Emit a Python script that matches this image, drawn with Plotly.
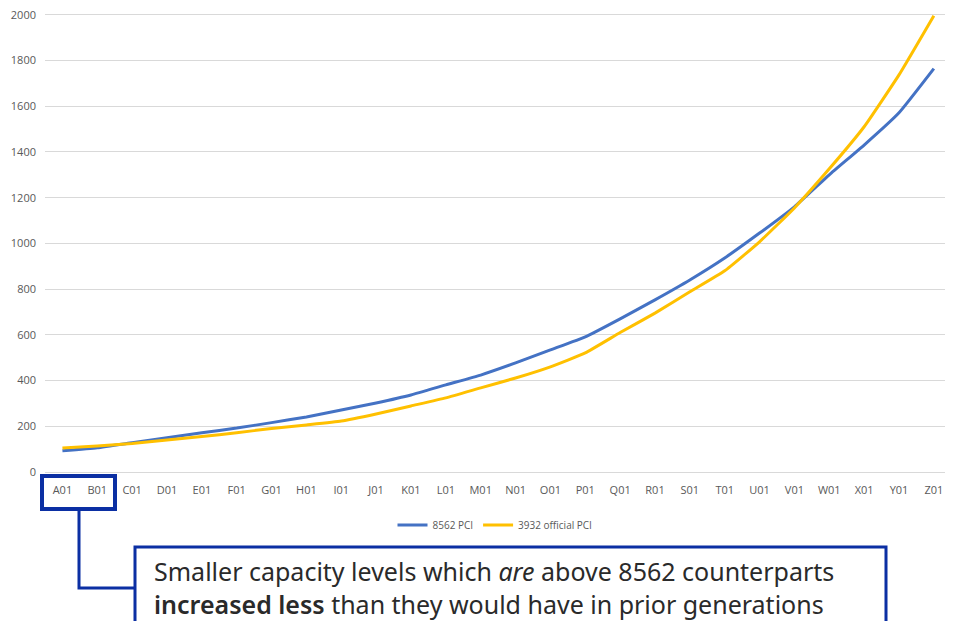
import plotly.graph_objects as go

categories = ["A01", "B01", "C01", "D01", "E01", "F01", "G01", "H01", "I01", "J01",
              "K01", "L01", "M01", "N01", "O01", "P01", "Q01", "R01", "S01", "T01",
              "U01", "V01", "W01", "X01", "Y01", "Z01"]
pci_8562 = [93, 106, 128, 150, 172, 192, 216, 241, 271, 302, 337, 381, 424, 477,
            534, 591, 670, 753, 840, 936, 1045, 1160, 1300, 1430, 1571, 1764]
pci_3932 = [105, 114, 125, 140, 155, 172, 190, 206, 223, 254, 289, 324, 368, 411,
            460, 521, 610, 695, 788, 880, 1007, 1155, 1326, 1510, 1737, 1996]
y_ticks = [0, 200, 400, 600, 800, 1000, 1200, 1400, 1600, 1800, 2000]

OFF = 8  # browser body margin
W, H = 953 - 2 * OFF, 629 - 2 * OFF
Y_TOP = 2012
PX_PER_UNIT = (472 - 15) / 2000.0
TOP_SCREEN = 472 - Y_TOP * PX_PER_UNIT
L, R, T, B = 45 - OFF, W, TOP_SCREEN - OFF, 472 - OFF  # plot area in figure pixels


def px(x):
    return (x - OFF - L) / (R - L)


def py(y):
    return (B - (y - OFF)) / (B - T)


fig = go.Figure()
fig.add_trace(go.Scatter(x=categories, y=pci_8562, mode="lines", name="8562 PCI",
                         line=dict(color="#4472C4", width=3, shape="spline", smoothing=0.4)))
fig.add_trace(go.Scatter(x=categories, y=pci_3932, mode="lines", name="3932 official PCI",
                         line=dict(color="#FFC000", width=3, shape="spline", smoothing=0.4)))

box_col = "#0B2FA3"
shapes = [
    dict(type="path", xref="paper", yref="paper",
         path=f"M {px(79)},{py(509)} L {px(79)},{py(588)} L {px(135)},{py(588)}",
         line=dict(color=box_col, width=3)),
    dict(type="rect", xref="paper", yref="paper",
         x0=px(42), x1=px(115), y0=py(476), y1=py(509),
         line=dict(color=box_col, width=4)),
    dict(type="rect", xref="paper", yref="paper",
         x0=px(135), x1=px(886), y0=py(547), y1=py(645),
         fillcolor="white", line=dict(color=box_col, width=3)),
]

annotations = [
    dict(xref="paper", yref="paper", x=px(152), y=py(587), xanchor="left", yanchor="middle",
         align="left", showarrow=False,
         text="Smaller capacity levels which <i>are</i> above 8562 counterparts<br>"
              "<span style='font-weight:600'>increased less</span> than they would have in prior generations",
         font=dict(family="Noto Sans", size=25, color="#2a2a2a")),
]

fig.update_layout(
    width=W, height=H,
    margin=dict(l=L, r=0, t=T, b=H - B),
    paper_bgcolor="white", plot_bgcolor="white",
    showlegend=True,
    legend=dict(orientation="h", x=0.5, xanchor="center", y=py(525), yanchor="middle",
                font=dict(family="Open Sans", size=10, color="#595959"),
                itemwidth=30),
    shapes=shapes,
    annotations=annotations,
    xaxis=dict(type="category", range=[-0.5, 25.32], showgrid=False,
               showline=True, linecolor="#D9D9D9", linewidth=1,
               ticks="", tickfont=dict(family="Open Sans", size=11, color="#595959"),
               ticklabelstandoff=8, fixedrange=True),
    yaxis=dict(range=[0, Y_TOP], tickvals=y_ticks, showgrid=True, gridcolor="#D9D9D9",
               gridwidth=1, zeroline=False, showline=False, ticks="",
               tickfont=dict(family="Open Sans", size=11, color="#595959"),
               ticklabelstandoff=8, ticklabeloverflow="allow", fixedrange=True),
)

fig.write_html("out.html")
